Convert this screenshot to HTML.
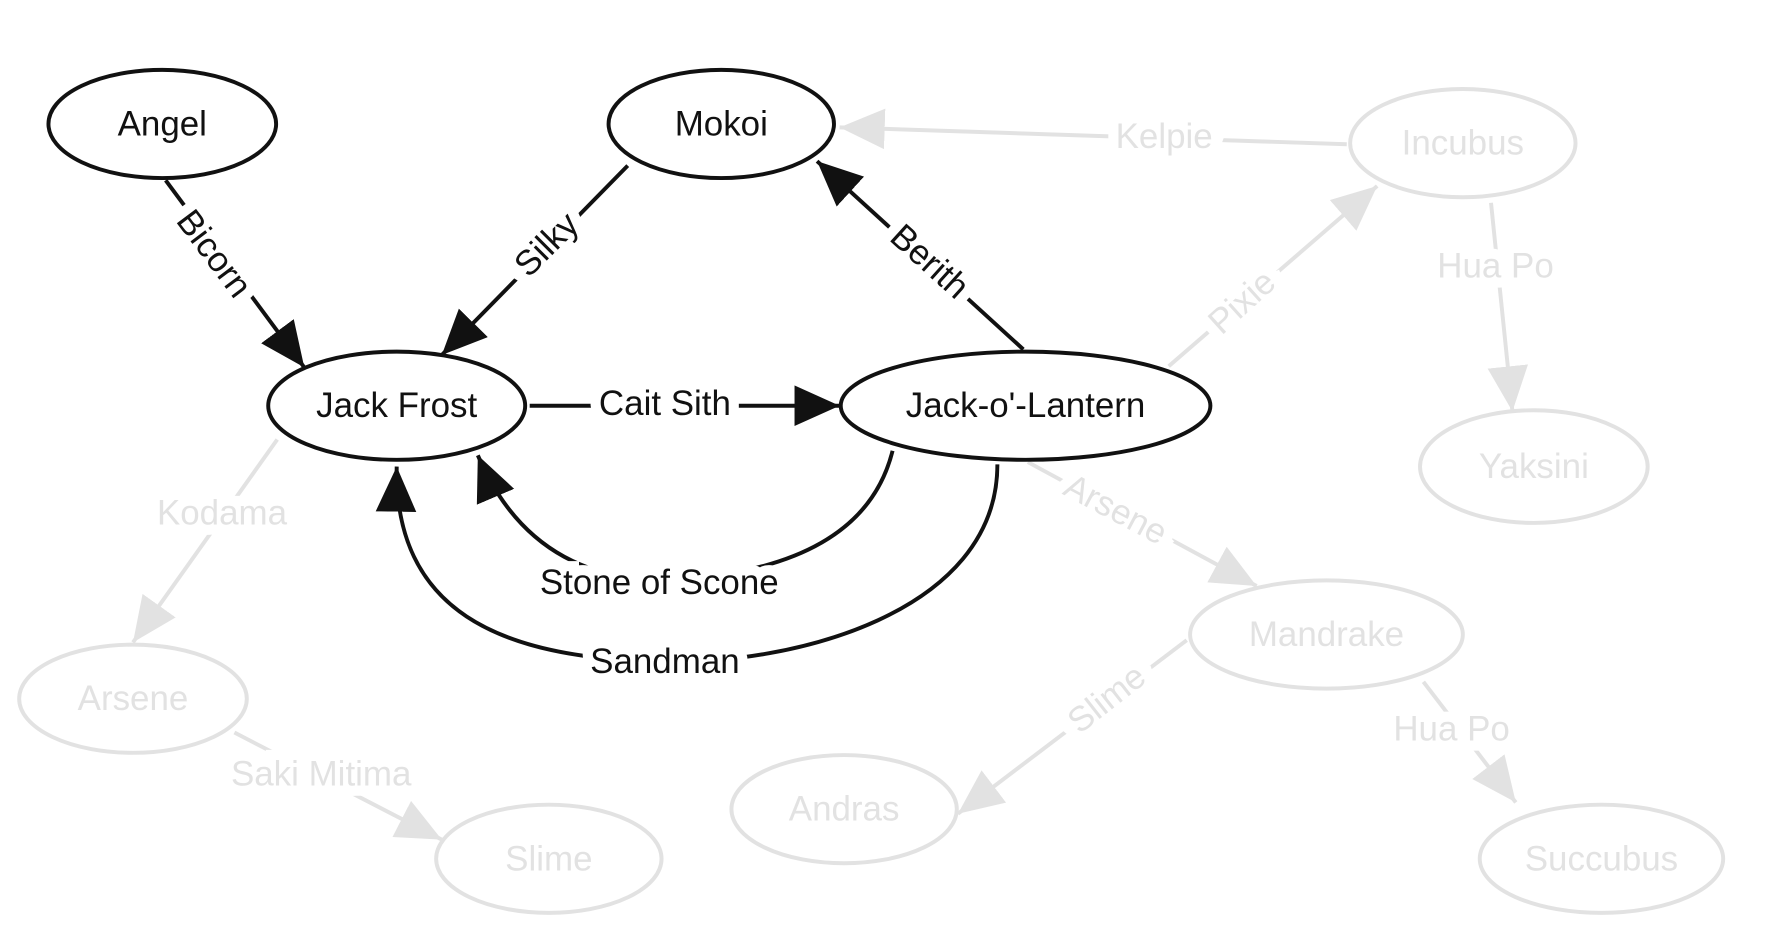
<!DOCTYPE html>
<html><head><meta charset="utf-8"><style>html,body{margin:0;padding:0;background:#fff}svg{display:block}</style></head>
<body>
<svg width="1766" height="938" viewBox="0 0 1567 832.3" xmlns="http://www.w3.org/2000/svg" font-family="'Liberation Sans', sans-serif" font-size="31">
<defs>
<marker id="ab" markerUnits="userSpaceOnUse" markerWidth="50" markerHeight="50" refX="40" refY="18" orient="auto"><path d="M0,0 L40,18 L0,36 Z" fill="#111"/></marker>
<marker id="ag" markerUnits="userSpaceOnUse" markerWidth="50" markerHeight="50" refX="40" refY="18" orient="auto"><path d="M0,0 L40,18 L0,36 Z" fill="#e2e2e2"/></marker>
</defs>
<g fill="none" stroke="#e2e2e2" stroke-width="3.5">
<line x1="1195" y1="128" x2="745" y2="113" marker-end="url(#ag)"/>
<line x1="1037" y1="325" x2="1222" y2="165" marker-end="url(#ag)"/>
<line x1="1323" y1="180" x2="1342" y2="365" marker-end="url(#ag)"/>
<line x1="246" y1="390" x2="118" y2="570" marker-end="url(#ag)"/>
<line x1="912" y1="410" x2="1115" y2="520" marker-end="url(#ag)"/>
<line x1="1053" y1="568" x2="850" y2="722" marker-end="url(#ag)"/>
<line x1="1263" y1="605" x2="1345" y2="712" marker-end="url(#ag)"/>
<line x1="208" y1="650" x2="392" y2="745" marker-end="url(#ag)"/>
<ellipse cx="1298" cy="127" rx="100" ry="48"/>
<ellipse cx="1361" cy="414" rx="101" ry="50"/>
<ellipse cx="118" cy="620" rx="101" ry="48"/>
<ellipse cx="1177" cy="563" rx="121" ry="48"/>
<ellipse cx="749" cy="718" rx="100" ry="48"/>
<ellipse cx="487" cy="762" rx="100" ry="48"/>
<ellipse cx="1421" cy="762" rx="108" ry="48"/>
</g>
<g text-anchor="middle" dominant-baseline="central" fill="#e2e2e2" stroke="#fff" stroke-width="18" paint-order="stroke">
<text x="1033" y="121">Kelpie</text>
<text x="1102" y="268" transform="rotate(-42 1102 268)">Pixie</text>
<text x="1327" y="236">Hua Po</text>
<text x="197" y="455">Kodama</text>
<text x="990" y="452" transform="rotate(28 990 452)">Arsene</text>
<text x="982" y="620" transform="rotate(-38 982 620)">Slime</text>
<text x="1288" y="647">Hua Po</text>
<text x="285" y="687">Saki Mitima</text>
</g>
<g text-anchor="middle" dominant-baseline="central" fill="#e2e2e2">
<text x="1298" y="127">Incubus</text>
<text x="1361" y="414">Yaksini</text>
<text x="118" y="620">Arsene</text>
<text x="1177" y="563">Mandrake</text>
<text x="749" y="718">Andras</text>
<text x="487" y="762">Slime</text>
<text x="1421" y="762">Succubus</text>
</g>
<g fill="none" stroke="#111" stroke-width="3.5">
<line x1="147" y1="160" x2="270" y2="326" marker-end="url(#ab)"/>
<line x1="557" y1="147" x2="392" y2="315" marker-end="url(#ab)"/>
<line x1="908" y1="310" x2="725" y2="143" marker-end="url(#ab)"/>
<line x1="470" y1="360" x2="745" y2="360" marker-end="url(#ab)"/>
<path d="M792,400 Q765,508 585,515 Q470,512 424,404" marker-end="url(#ab)"/>
<path d="M885,412 C885,545 700,590 590,587 C440,585 350,540 352,414" marker-end="url(#ab)"/>
<ellipse cx="144" cy="110" rx="101" ry="48" fill="#fff"/>
<ellipse cx="640" cy="110" rx="100" ry="48" fill="#fff"/>
<ellipse cx="352" cy="360" rx="114" ry="48" fill="#fff"/>
<ellipse cx="910" cy="360" rx="164" ry="48" fill="#fff"/>
</g>
<g text-anchor="middle" dominant-baseline="central" fill="#111" stroke="#fff" stroke-width="18" paint-order="stroke">
<text x="190" y="225" transform="rotate(53 190 225)">Bicorn</text>
<text x="485" y="217" transform="rotate(-45 485 217)">Silky</text>
<text x="825" y="232" transform="rotate(42 825 232)">Berith</text>
<text x="590" y="358">Cait Sith</text>
<text x="585" y="517">Stone of Scone</text>
<text x="590" y="587">Sandman</text>
</g>
<g text-anchor="middle" dominant-baseline="central" fill="#111">
<text x="144" y="110">Angel</text>
<text x="640" y="110">Mokoi</text>
<text x="352" y="360">Jack Frost</text>
<text x="910" y="360">Jack-o'-Lantern</text>
</g>
</svg>
</body></html>
